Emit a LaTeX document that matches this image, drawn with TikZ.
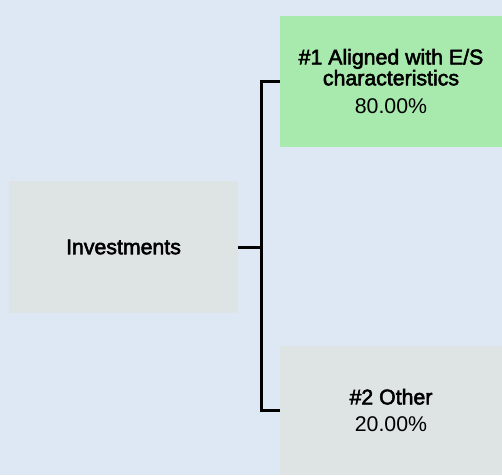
\documentclass[tikz,border=0pt]{standalone}
\usepackage{fontspec}
\setmainfont{Liberation Sans}
\newfontfamily\titlefont{Liberation Sans}[RawFeature={embolden=2.5}]
\definecolor{bgblue}{RGB}{221,232,244}
\definecolor{boxgrey}{RGB}{222,227,227}
\definecolor{boxgreen}{RGB}{168,234,174}
\begin{document}
\begin{tikzpicture}[x=1pt,y=-1pt,
  box/.style={rectangle,inner sep=0pt,align=center,text=black,font=\fontsize{21.3}{19.5}\selectfont},
  conn/.style={draw=black,line width=3pt,line join=miter,line cap=butt}]
\fill[bgblue] (0,0) rectangle (502,475);
\useasboundingbox (0,0) rectangle (502,475);
\node[box,fill=boxgrey,minimum width=229pt,minimum height=132pt] (inv) at (123.5,247) {\titlefont Investments};
\node[box,fill=boxgreen,minimum width=222pt,minimum height=131pt] (g) at (391,81.5)
  {\titlefont \#1 Aligned with E/S\\\titlefont characteristics\\[9pt]80.00\%};
\node[box,fill=boxgrey,minimum width=222pt,minimum height=129pt] (o) at (391,410.5)
  {\titlefont \#2 Other\\[8pt]20.00\%};
\coordinate (j) at (261.5,247);
\draw[conn] (g.west) -| (j) |- (o.west);
\draw[conn] (inv.east) -- (j);
\end{tikzpicture}
\end{document}
